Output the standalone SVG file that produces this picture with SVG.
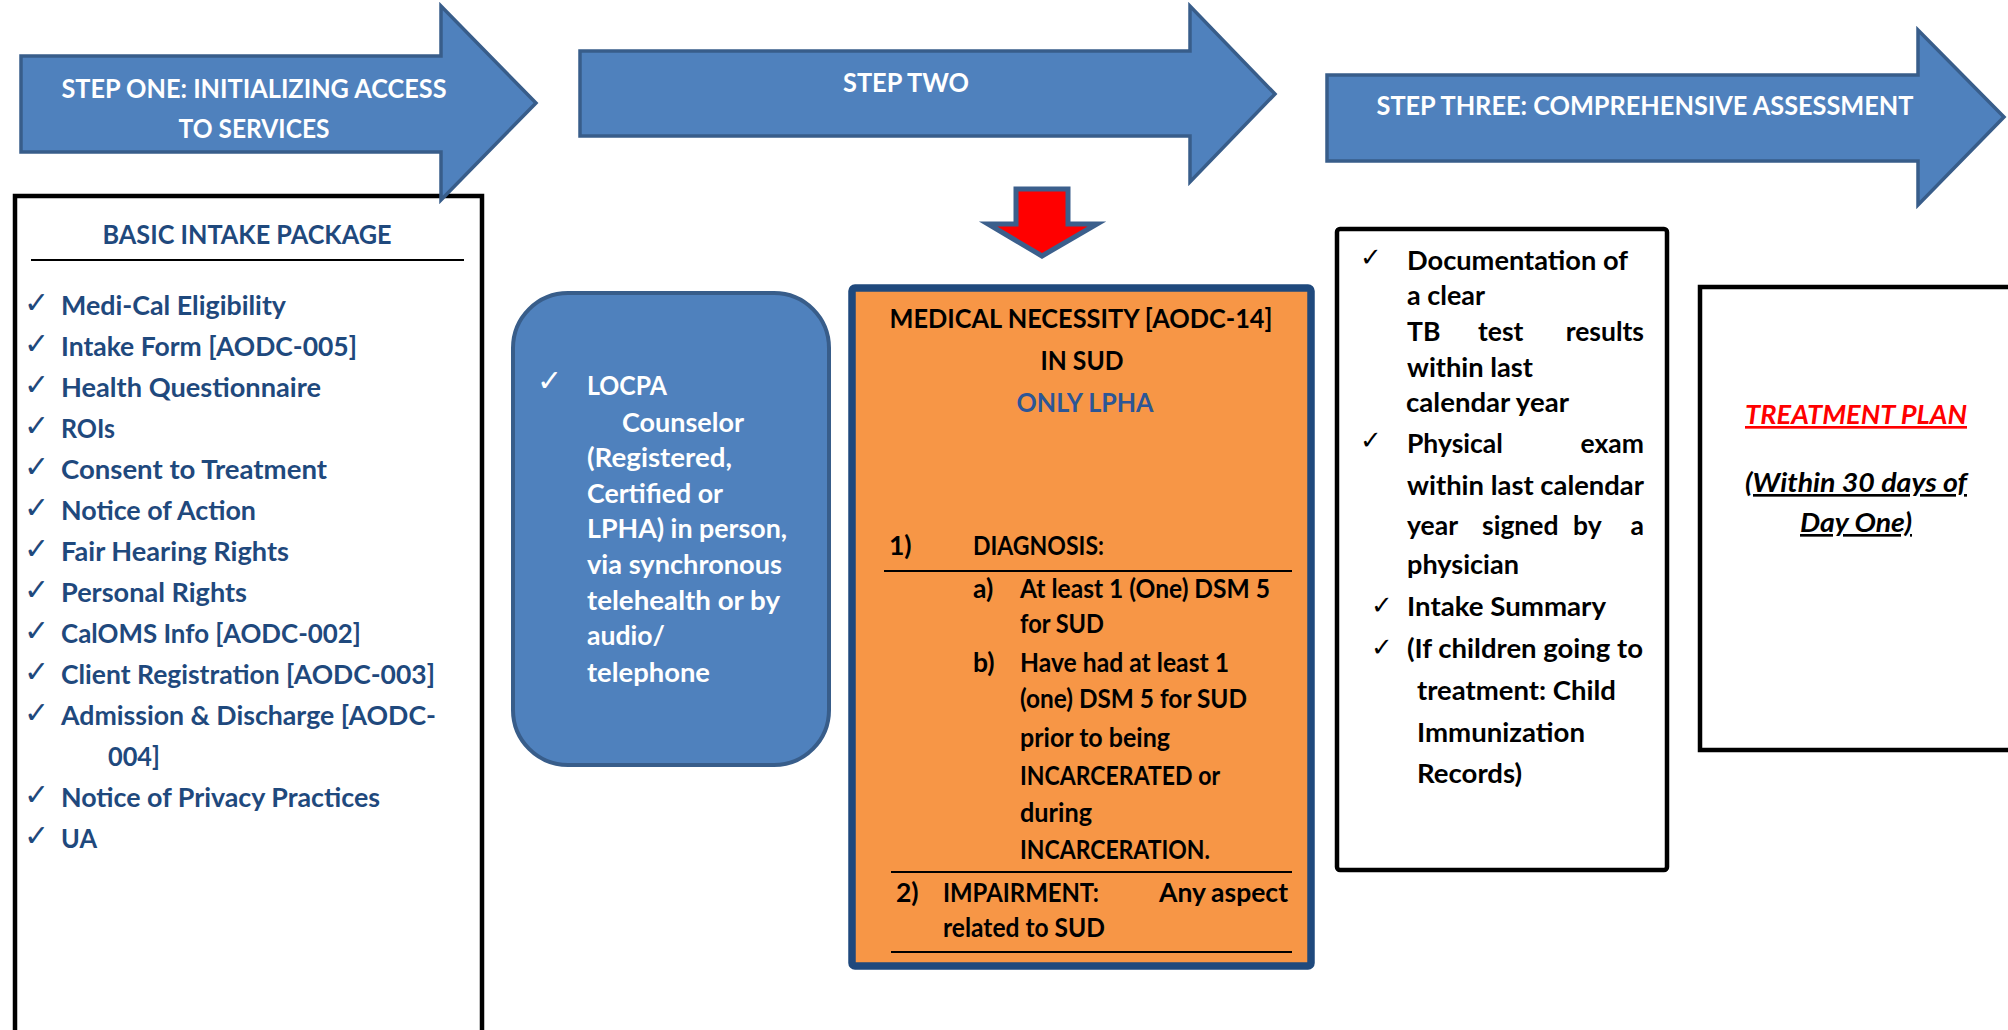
<svg xmlns="http://www.w3.org/2000/svg" width="2008" height="1030" viewBox="0 0 2008 1030">
<style>
.t{font-family:Lato,"Open Sans","Liberation Sans",sans-serif;font-weight:bold;font-size:26.5px}
.w{fill:#ffffff}
.b{fill:#1F497D}
.k{fill:#000000}
.c{font-family:"DejaVu Sans","Liberation Sans",sans-serif;font-weight:normal;font-size:30px}
.cs{font-size:26px}
.mid{text-anchor:middle}
.end{text-anchor:end}
.step{fill:#4F81BD;stroke:#385D8A;stroke-width:3.5;stroke-linejoin:miter}
.rule{stroke:#000;stroke-width:2.2}
.frame{fill:#fff;stroke:#000;stroke-width:4.5}
.it{font-style:italic;text-decoration:underline}
</style>
<rect width="2008" height="1030" fill="#fff"/>

<g id="basic-intake">
<rect class="frame" x="15" y="196" width="467" height="900"/>
<text class="t b mid" x="247" y="244" textLength="289" lengthAdjust="spacingAndGlyphs">BASIC INTAKE PACKAGE</text>
<line class="rule" x1="31" y1="260" x2="464" y2="260"/>
<g class="c b">
<text x="24" y="313">✓</text><text x="24" y="354">✓</text><text x="24" y="395">✓</text><text x="24" y="436">✓</text>
<text x="24" y="477">✓</text><text x="24" y="518">✓</text><text x="24" y="559">✓</text><text x="24" y="600">✓</text>
<text x="24" y="641">✓</text><text x="24" y="682">✓</text><text x="24" y="723">✓</text>
<text x="24" y="805">✓</text><text x="24" y="846">✓</text>
</g>
<g class="t b">
<text x="61" y="315" textLength="225" lengthAdjust="spacingAndGlyphs">Medi-Cal Eligibility</text>
<text x="61" y="356" textLength="296" lengthAdjust="spacingAndGlyphs">Intake Form [AODC-005]</text>
<text x="61" y="397" textLength="260" lengthAdjust="spacingAndGlyphs">Health Questionnaire</text>
<text x="61" y="438" textLength="54" lengthAdjust="spacingAndGlyphs">ROIs</text>
<text x="61" y="479" textLength="266" lengthAdjust="spacingAndGlyphs">Consent to Treatment</text>
<text x="61" y="520" textLength="195" lengthAdjust="spacingAndGlyphs">Notice of Action</text>
<text x="61" y="561" textLength="228" lengthAdjust="spacingAndGlyphs">Fair Hearing Rights</text>
<text x="61" y="602" textLength="186" lengthAdjust="spacingAndGlyphs">Personal Rights</text>
<text x="61" y="643" textLength="300" lengthAdjust="spacingAndGlyphs">CalOMS Info [AODC-002]</text>
<text x="61" y="684" textLength="374" lengthAdjust="spacingAndGlyphs">Client Registration [AODC-003]</text>
<text x="61" y="725" textLength="375" lengthAdjust="spacingAndGlyphs">Admission &amp; Discharge [AODC-</text>
<text x="108" y="766" textLength="52" lengthAdjust="spacingAndGlyphs">004]</text>
<text x="61" y="807" textLength="319" lengthAdjust="spacingAndGlyphs">Notice of Privacy Practices</text>
<text x="61" y="848" textLength="36" lengthAdjust="spacingAndGlyphs">UA</text>
</g>
</g>

<g id="step-one">
<path class="step" d="M21,56 L441,56 L441,6 L536,103 L441,200 L441,152 L21,152 Z"/>
<text class="t w mid" x="254" y="98" textLength="385" lengthAdjust="spacingAndGlyphs">STEP ONE: INITIALIZING ACCESS</text>
<text class="t w mid" x="254" y="138" textLength="151" lengthAdjust="spacingAndGlyphs">TO SERVICES</text>
</g>

<g id="step-two">
<path class="step" d="M580,51 L1190,51 L1190,6 L1275,94 L1190,182 L1190,136 L580,136 Z"/>
<text class="t w mid" x="906" y="92" textLength="126" lengthAdjust="spacingAndGlyphs">STEP TWO</text>
</g>

<g id="step-three">
<path class="step" d="M1327,75 L1918,75 L1918,30 L2004,117 L1918,205 L1918,161 L1327,161 Z"/>
<text class="t w mid" x="1645" y="115" textLength="537" lengthAdjust="spacingAndGlyphs">STEP THREE: COMPREHENSIVE ASSESSMENT</text>
</g>

<g id="connectors">
<path d="M1016,189 L1068,189 L1068,224 L1097,224 L1042,256 L988,224 L1016,224 Z" fill="#FF0000" stroke="#3B5F8C" stroke-width="5" stroke-linejoin="miter"/>
</g>

<g id="locpa">
<rect x="513" y="293" width="316" height="472" rx="55" ry="55" fill="#4F81BD" stroke="#385D8A" stroke-width="4"/>
<text class="c w" x="537" y="391">✓</text>
<g class="t w">
<text x="587" y="395" textLength="80" lengthAdjust="spacingAndGlyphs">LOCPA</text>
<text x="622" y="432" textLength="122" lengthAdjust="spacingAndGlyphs">Counselor</text>
<text x="587" y="467" textLength="145" lengthAdjust="spacingAndGlyphs">(Registered,</text>
<text x="587" y="503" textLength="136" lengthAdjust="spacingAndGlyphs">Certified or</text>
<text x="587" y="538" textLength="200" lengthAdjust="spacingAndGlyphs">LPHA) in person,</text>
<text x="587" y="574" textLength="195" lengthAdjust="spacingAndGlyphs">via synchronous</text>
<text x="587" y="610" textLength="193" lengthAdjust="spacingAndGlyphs">telehealth or by</text>
<text x="587" y="645" textLength="78" lengthAdjust="spacingAndGlyphs">audio/</text>
<text x="587" y="682" textLength="123" lengthAdjust="spacingAndGlyphs">telephone</text>
</g>
</g>

<g id="medical-necessity">
<rect x="852" y="288" width="459" height="678" rx="3" ry="3" fill="#F79646" stroke="#1F497D" stroke-width="7.5"/>
<g class="t k">
<text class="mid" x="1081" y="328" textLength="383" lengthAdjust="spacingAndGlyphs">MEDICAL NECESSITY [AODC-14]</text>
<text class="mid" x="1082" y="370" textLength="83" lengthAdjust="spacingAndGlyphs">IN SUD</text>
<text class="mid" x="1085" y="412" style="fill:#2C5696" textLength="137" lengthAdjust="spacingAndGlyphs">ONLY LPHA</text>
<text x="889" y="555">1)</text><text x="973" y="555" textLength="131" lengthAdjust="spacingAndGlyphs">DIAGNOSIS:</text>
<text x="973" y="598">a)</text><text x="1020" y="598" textLength="250" lengthAdjust="spacingAndGlyphs">At least 1 (One) DSM 5</text>
<text x="1020" y="633" textLength="84" lengthAdjust="spacingAndGlyphs">for SUD</text>
<text x="973" y="672">b)</text><text x="1020" y="672" textLength="209" lengthAdjust="spacingAndGlyphs">Have had at least 1</text>
<text x="1020" y="708" textLength="227" lengthAdjust="spacingAndGlyphs">(one) DSM 5 for SUD</text>
<text x="1020" y="747" textLength="150" lengthAdjust="spacingAndGlyphs">prior to being</text>
<text x="1020" y="785" textLength="200" lengthAdjust="spacingAndGlyphs">INCARCERATED or</text>
<text x="1020" y="822" textLength="72" lengthAdjust="spacingAndGlyphs">during</text>
<text x="1020" y="859" textLength="190" lengthAdjust="spacingAndGlyphs">INCARCERATION.</text>
<text x="896" y="902">2)</text><text x="943" y="902" textLength="156" lengthAdjust="spacingAndGlyphs">IMPAIRMENT:</text><text x="1159" y="902">Any</text><text class="end" x="1288" y="902">aspect</text>
<text x="943" y="937" textLength="162" lengthAdjust="spacingAndGlyphs">related to SUD</text>
</g>
<line class="rule" x1="884" y1="571" x2="1292" y2="571"/>
<line class="rule" x1="891" y1="872" x2="1292" y2="872"/>
<line class="rule" x1="891" y1="952" x2="1292" y2="952"/>
</g>

<g id="comprehensive-assessment">
<rect class="frame" x="1337" y="229" width="330" height="641" rx="3" ry="3"/>
<g class="c cs k">
<text x="1360" y="266">✓</text><text x="1360" y="449">✓</text><text x="1371" y="614">✓</text><text x="1371" y="656">✓</text>
</g>
<g class="t k">
<text x="1407" y="270" textLength="221" lengthAdjust="spacingAndGlyphs">Documentation of</text>
<text x="1407" y="305" textLength="78" lengthAdjust="spacingAndGlyphs">a clear</text>
<text x="1407" y="341">TB</text><text x="1478" y="341">test</text><text class="end" x="1644" y="341">results</text>
<text x="1407" y="377" textLength="126" lengthAdjust="spacingAndGlyphs">within last</text>
<text x="1406" y="412" textLength="163" lengthAdjust="spacingAndGlyphs">calendar year</text>
<text x="1407" y="453">Physical</text><text class="end" x="1644" y="453">exam</text>
<text x="1407" y="495" textLength="237" lengthAdjust="spacingAndGlyphs">within last calendar</text>
<text x="1407" y="535">year</text><text x="1482" y="535">signed</text><text x="1573" y="535">by</text><text class="end" x="1644" y="535">a</text>
<text x="1407" y="574" textLength="112" lengthAdjust="spacingAndGlyphs">physician</text>
<text x="1407" y="616" textLength="199" lengthAdjust="spacingAndGlyphs">Intake Summary</text>
<text x="1407" y="658" textLength="236" lengthAdjust="spacingAndGlyphs">(If children going to</text>
<text x="1417" y="700" textLength="199" lengthAdjust="spacingAndGlyphs">treatment: Child</text>
<text x="1417" y="742" textLength="168" lengthAdjust="spacingAndGlyphs">Immunization</text>
<text x="1417" y="783" textLength="105" lengthAdjust="spacingAndGlyphs">Records)</text>
</g>
</g>

<g id="treatment-plan">
<rect class="frame" x="1700" y="287" width="400" height="463"/>
<text class="t it mid" x="1856" y="424" style="fill:#FF0000" textLength="222" lengthAdjust="spacingAndGlyphs">TREATMENT PLAN</text>
<text class="t it k mid" x="1856" y="492" textLength="222" lengthAdjust="spacingAndGlyphs">(Within 30 days of</text>
<text class="t it k mid" x="1856" y="532" textLength="112" lengthAdjust="spacingAndGlyphs">Day One)</text>
</g>
</svg>
